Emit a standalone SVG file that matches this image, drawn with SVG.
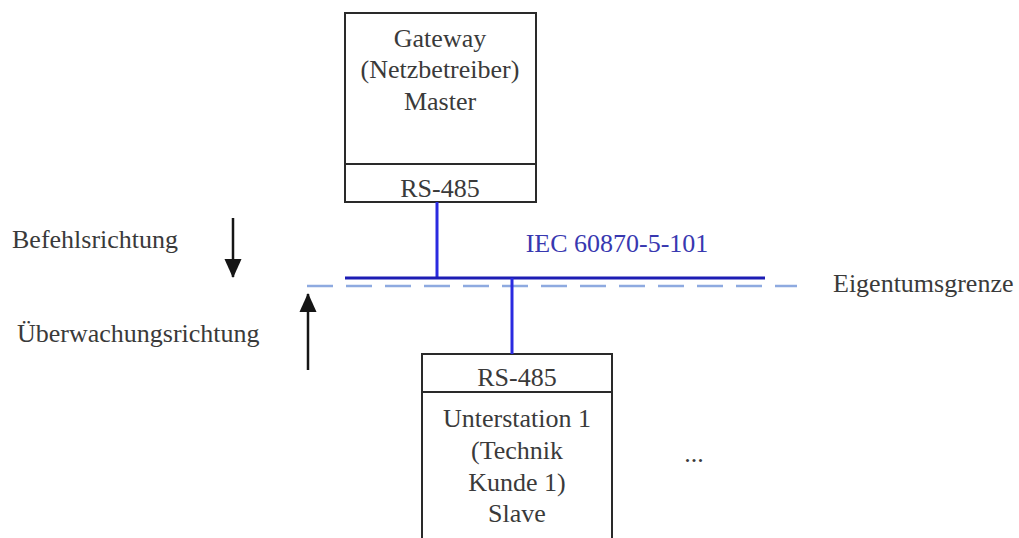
<svg xmlns="http://www.w3.org/2000/svg" width="1019" height="538" viewBox="0 0 1019 538">
<style>
text{font-family:"Liberation Serif","Times New Roman",serif;font-size:26px;fill:#3a3a3a}
.c{text-anchor:middle}
.box{fill:#fff;stroke:#2a2a2a;stroke-width:2}
.div{stroke:#2a2a2a;stroke-width:2}
.bl{stroke:#2a2ae0;stroke-width:3}
.arr{stroke:#151515;stroke-width:2.5}
</style>
<defs>
<marker id="ah" viewBox="0 0 20 18" refX="19" refY="9" markerWidth="19" markerHeight="18" markerUnits="userSpaceOnUse" orient="auto"><path d="M0,0L20,9L0,18z" fill="#151515"/></marker>
</defs>
<rect width="1019" height="538" fill="#fff"/>
<g id="gateway">
<rect class="box" x="345" y="13" width="191" height="189"/>
<line class="div" x1="345" y1="164" x2="536" y2="164"/>
<text class="c" x="440" y="47">Gateway</text>
<text class="c" x="440" y="78">(Netzbetreiber)</text>
<text class="c" x="440" y="110">Master</text>
<text class="c" x="440" y="197">RS-485</text>
</g>
<g id="station1">
<rect class="box" x="422" y="354" width="190" height="200"/>
<line class="div" x1="422" y1="392" x2="612" y2="392"/>
<text class="c" x="517" y="386">RS-485</text>
<text class="c" x="517" y="427">Unterstation 1</text>
<text class="c" x="517" y="459">(Technik</text>
<text class="c" x="517" y="491">Kunde 1)</text>
<text class="c" x="517" y="522">Slave</text>
</g>
<g id="connectors">
<line x1="307" y1="286" x2="797" y2="286" stroke="#8eaae0" stroke-width="2.5" stroke-dasharray="26 13"/>
<line class="bl" x1="437" y1="202" x2="437" y2="278"/>
<line x1="345" y1="278" x2="765" y2="278" stroke="#1c1cb4" stroke-width="3"/>
<line class="bl" x1="512" y1="278" x2="512" y2="354"/>
<line class="arr" x1="233" y1="218" x2="233" y2="277" marker-end="url(#ah)"/>
<line class="arr" x1="308" y1="370" x2="308" y2="294" marker-end="url(#ah)"/>
</g>
<text x="617" y="252" class="c" style="fill:#3838b0">IEC 60870-5-101</text>
<text x="12" y="248">Befehlsrichtung</text>
<text x="17" y="342">Überwachungsrichtung</text>
<text x="833" y="292">Eigentumsgrenze</text>
<text x="694" y="462" class="c">...</text>
</svg>
